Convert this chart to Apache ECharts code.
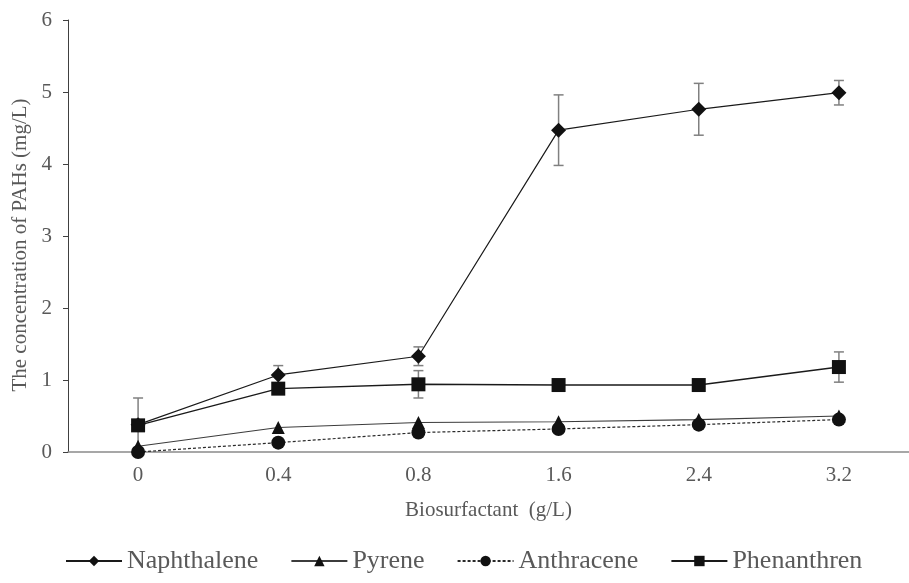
<!DOCTYPE html>
<html>
<head>
<meta charset="utf-8">
<script src="https://cdn.jsdelivr.net/npm/echarts@6/dist/echarts.min.js"></script>
<style>
  html, body { margin: 0; padding: 0; background: #ffffff; }
  #chart { width: 909px; height: 583px; }
</style>
</head>
<body>
<div id="chart"></div>
<script>
// Biosurfactant dose (g/L)
const categories = ['0', '0.4', '0.8', '1.6', '2.4', '3.2'];

// PAH concentrations (mg/L)
const naphthalene = [0.38, 1.07, 1.33, 4.47, 4.76, 4.99];
const pyrene      = [0.08, 0.34, 0.41, 0.42, 0.45, 0.50];
const anthracene  = [0.00, 0.13, 0.27, 0.32, 0.38, 0.45];
const phenanthren = [0.37, 0.88, 0.94, 0.93, 0.93, 1.18];

// Standard deviations (mg/L)
const naphthaleneErr = [0, 0.13, 0.13, 0.49, 0.36, 0.17];
const phenanthrenErr = [0.38, 0, 0.19, 0, 0, 0.21];

const yTicks = [0, 1, 2, 3, 4, 5, 6];

const FONT = '"Liberation Serif", "Times New Roman", serif';
const TEXT = '#595959';
const MARK = '#111111';

function errorData(values, errs) {
  const out = [];
  values.forEach(function (v, i) {
    if (errs[i] > 0) out.push([i, v - errs[i], v + errs[i]]);
  });
  return out;
}

function renderErrorBar(params, api) {
  const x = api.value(0);
  const lo = api.coord([x, api.value(1)]);
  const hi = api.coord([x, api.value(2)]);
  const half = 5;
  const style = { stroke: '#808080', lineWidth: 1.5 };
  return {
    type: 'group',
    children: [
      { type: 'line', shape: { x1: hi[0], y1: hi[1], x2: lo[0], y2: lo[1] }, style: style },
      { type: 'line', shape: { x1: hi[0] - half, y1: hi[1], x2: hi[0] + half, y2: hi[1] }, style: style },
      { type: 'line', shape: { x1: lo[0] - half, y1: lo[1], x2: lo[0] + half, y2: lo[1] }, style: style }
    ]
  };
}

const chart = echarts.init(document.getElementById('chart'), null, { renderer: 'canvas' });

chart.setOption({
  backgroundColor: '#ffffff',
  animation: false,
  textStyle: { fontFamily: FONT },
  grid: { left: 68, top: 20, width: 849, height: 432, containLabel: false },
  legend: {
    data: ['Naphthalene', 'Pyrene', 'Anthracene', 'Phenanthren'],
    left: 60,
    bottom: 4,
    itemWidth: 56,
    itemHeight: 13,
    itemGap: 32,
    textStyle: { fontFamily: FONT, fontSize: 26, color: TEXT }
  },
  xAxis: {
    type: 'category',
    data: categories,
    boundaryGap: true,
    name: 'Biosurfactant  (g/L)',
    nameLocation: 'middle',
    nameGap: 48,
    nameTextStyle: { fontFamily: FONT, fontSize: 21, color: TEXT },
    axisLine: { lineStyle: { color: '#8a8a8a', width: 1.5 } },
    axisTick: { alignWithLabel: true, length: 5, lineStyle: { color: '#333333' } },
    axisLabel: { margin: 13, fontFamily: FONT, fontSize: 21, color: TEXT },
    splitLine: { show: false }
  },
  yAxis: {
    type: 'value',
    min: yTicks[0],
    max: yTicks[yTicks.length - 1],
    interval: 1,
    name: 'The concentration of PAHs (mg/L)',
    nameLocation: 'middle',
    nameGap: 17,
    nameTextStyle: { fontFamily: FONT, fontSize: 21, color: TEXT, padding: [0, 18, 0, 0] },
    axisLine: { show: true, lineStyle: { color: '#404040', width: 1 } },
    axisTick: { show: true, length: 5, lineStyle: { color: '#404040' } },
    axisLabel: { margin: 16, fontFamily: FONT, fontSize: 21, color: TEXT },
    splitLine: { show: false }
  },
  series: [
    {
      type: 'custom',
      name: 'errN',
      renderItem: renderErrorBar,
      data: errorData(naphthalene, naphthaleneErr),
      z: 1,
      silent: true
    },
    {
      type: 'custom',
      name: 'errP',
      renderItem: renderErrorBar,
      data: errorData(phenanthren, phenanthrenErr),
      z: 1,
      silent: true
    },
    {
      name: 'Naphthalene',
      type: 'line',
      data: naphthalene,
      symbol: 'diamond',
      symbolSize: [15, 15],
      itemStyle: { color: MARK },
      lineStyle: { color: '#1a1a1a', width: 1.2 },
      z: 3
    },
    {
      name: 'Pyrene',
      type: 'line',
      data: pyrene,
      symbol: 'triangle',
      symbolSize: 13,
      itemStyle: { color: MARK },
      lineStyle: { color: '#3c3c3c', width: 1.2 },
      z: 3
    },
    {
      name: 'Anthracene',
      type: 'line',
      data: anthracene,
      symbol: 'circle',
      symbolSize: 14,
      itemStyle: { color: MARK },
      lineStyle: { color: '#2a2a2a', width: 1.2, type: [3, 2] },
      z: 3
    },
    {
      name: 'Phenanthren',
      type: 'line',
      data: phenanthren,
      symbol: 'rect',
      symbolSize: 14,
      itemStyle: { color: MARK },
      lineStyle: { color: '#1a1a1a', width: 1.4 },
      z: 3
    }
  ]
});
</script>
</body>
</html>
